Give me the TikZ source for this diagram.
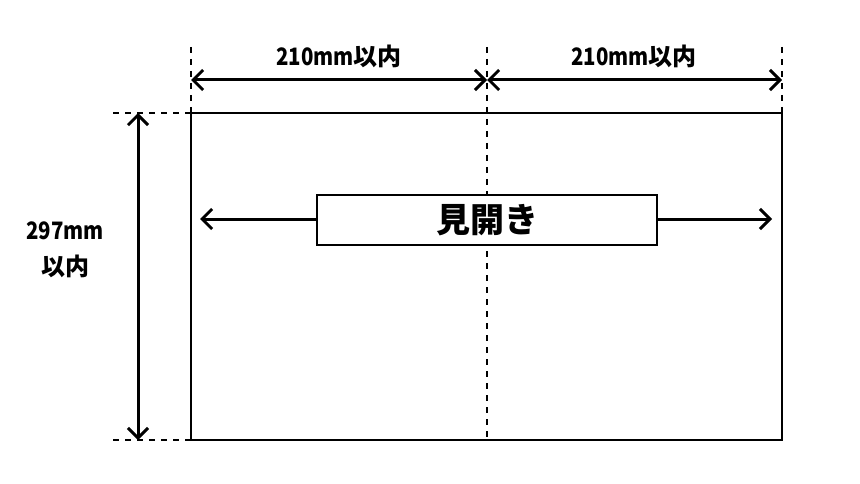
\documentclass[tikz,border=0pt]{standalone}
\usepackage{fontspec}
\setmainfont{Noto Sans CJK JP}
\usetikzlibrary{arrows.meta}
\newcommand{\narrow}[1]{\scalebox{0.85}[1]{#1}}
\begin{document}
\begin{tikzpicture}[x=1pt,y=-1pt,
  dimarrow/.style={line width=3pt,{Straight Barb[length=10pt,width=20pt,line width=3pt]}-{Straight Barb[length=10pt,width=20pt,line width=3pt]}},
  onearrow/.style={line width=3pt,-{Straight Barb[length=10pt,width=20pt,line width=3pt]}},
  guide/.style={line width=1.3pt,dash pattern=on 6pt off 6pt},
  frame/.style={line width=1.5pt},
  lbl/.style={font=\fontsize{24}{36}\selectfont\bfseries,inner sep=0pt,align=center},
  big/.style={font=\fontsize{34}{40}\selectfont\bfseries}]
\useasboundingbox (0,0) rectangle (860,484);
% frame corners
\coordinate (TL) at (191,113);
\coordinate (TR) at (782,113);
\coordinate (BL) at (191,440);
\coordinate (BR) at (782,440);
\coordinate (TM) at (487,113);
\coordinate (BM) at (487,440);
% guide end points
\coordinate (gL) at (191,47);
\coordinate (gM) at (487,47);
\coordinate (gR) at (782,47);
\coordinate (hT) at (113,113);
\coordinate (hB) at (113,440);
% dimension arrow ends
\coordinate (aL) at (191,80);
\coordinate (aM) at (487,80);
\coordinate (aR) at (782,80);
\coordinate (vT) at (138,113);
\coordinate (vB) at (138,440);
% frame
\draw[frame] (TL) rectangle (BR);
% guides
\draw[guide] (gL) -- (TL);
\draw[guide] (gR) -- (TR);
\draw[guide] (gM) -- (BM);
\draw[guide] (hT) -- (TL);
\draw[guide] (hB) -- (BL);
% dimension arrows
\draw[dimarrow] (aL) -- (aM);
\draw[dimarrow] (aM) -- (aR);
\draw[dimarrow] (vT) -- (vB);
% labels
\node[lbl] (w1) at (339,56) {\narrow{210mm}以内};
\node[lbl] (w2) at (634,56) {\narrow{210mm}以内};
\node[lbl] (h1) at (65,250) {\narrow{297mm}\\以内};
% spread box
\node[draw,frame,fill=white,minimum width=340pt,minimum height=50pt,inner sep=0pt,big] (box) at (487,220) {見開き};
\coordinate (eL) at (200,219);
\coordinate (eR) at (772,219);
\draw[onearrow] (box.west |- eL) -- (eL);
\draw[onearrow] (box.east |- eR) -- (eR);
\end{tikzpicture}
\end{document}
